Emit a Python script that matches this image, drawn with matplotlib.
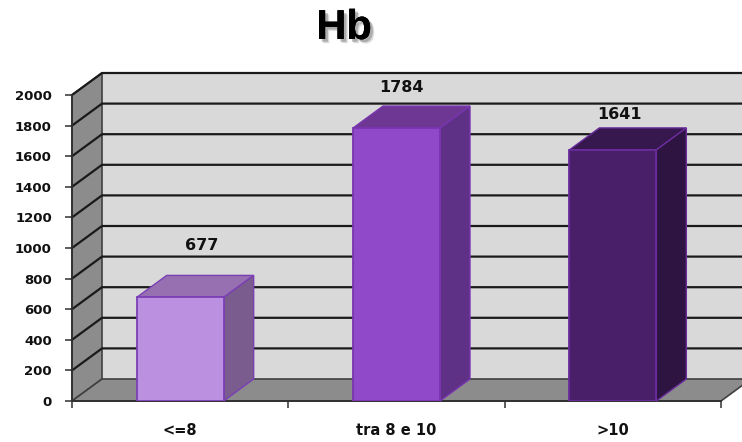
import matplotlib
matplotlib.use('Agg')
import matplotlib.pyplot as plt
import matplotlib.patheffects as pe
from matplotlib.patches import Polygon

categories = ['<=8', 'tra 8 e 10', '>10']
values = [677, 1784, 1641]
yticks = [0, 200, 400, 600, 800, 1000, 1200, 1400, 1600, 1800, 2000]

front_colors = ['#BC90E0', '#9049C8', '#481F68']
top_colors = ['#9670B0', '#6E3794', '#36184E']
side_colors = ['#7A5C8E', '#5E3086', '#2E1440']
edge_colors = ['#7B3FB5', '#7A35B0', '#6A2C9C']

# where the value labels sit relative to the bar centre / box top, in pixels
label_dx = [22, 5, 7]
label_dy = [30, 19, 13]

W, H = 742, 442
fig = plt.figure(figsize=(W / 100, H / 100), dpi=100)
ax = fig.add_axes([72 / W, 1 - 401 / H, (721 - 72) / W, (401 - 95) / H])
ax.set_xlim(-0.5, 2.5)
ax.set_ylim(0, 2000)

# depth of the fake 3d box, pixels -> data
xscale = 649 / 3
yscale = 306 / 2000
dx = 30 / xscale
dy = 22 / yscale
ymax = yticks[-1]


def poly(pts, **kw):
    p = Polygon(pts, closed=True, clip_on=False, **kw)
    ax.add_patch(p)


# walls and floor
poly([(-0.5 + dx, dy), (2.5 + dx, dy), (2.5 + dx, ymax + dy), (-0.5 + dx, ymax + dy)],
     facecolor='#D9D9D9', edgecolor='none', zorder=1)
poly([(-0.5, 0), (-0.5 + dx, dy), (-0.5 + dx, ymax + dy), (-0.5, ymax)],
     facecolor='#8C8C8C', edgecolor='#404040', linewidth=1.2, zorder=1)
poly([(-0.5, 0), (2.5, 0), (2.5 + dx, dy), (-0.5 + dx, dy)],
     facecolor='#8C8C8C', edgecolor='#404040', linewidth=1.2, zorder=1)

# gridlines go round the wall
for t in yticks[1:]:
    ax.plot([-0.5, -0.5 + dx, 2.5 + dx], [t, t + dy, t + dy], color='#1A1A1A',
            linewidth=1.6, clip_on=False, zorder=2)

# bars
width = 87 / xscale
for i, v in enumerate(values):
    l = i - width / 2
    r = i + width / 2
    ax.bar(i, v, width=width, color=front_colors[i], edgecolor=edge_colors[i],
           linewidth=1.3, zorder=5)
    poly([(l, v), (r, v), (r + dx, v + dy), (l + dx, v + dy)],
         facecolor=top_colors[i], edgecolor=edge_colors[i], linewidth=1, zorder=4)
    poly([(r, 0), (r + dx, dy), (r + dx, v + dy), (r, v)],
         facecolor=side_colors[i], edgecolor=edge_colors[i], linewidth=1, zorder=4)
    ax.text(i + label_dx[i] / xscale, v + dy + label_dy[i] / yscale, str(v),
            ha='center', va='center', fontsize=11.5, fontweight='bold',
            color='#111111', zorder=6)

for s in ['top', 'right']:
    ax.spines[s].set_visible(False)
for s in ['left', 'bottom']:
    ax.spines[s].set_color('#303030')
    ax.spines[s].set_linewidth(1.3)
    ax.spines[s].set_zorder(3)

ax.set_yticks(yticks)
ax.set_xticks([-0.5, 0.5, 1.5, 2.5])
ax.set_xticklabels([])
ax.set_xticks([0, 1, 2], minor=True)
ax.set_xticklabels(categories, minor=True, fontsize=10.5, fontweight='bold', color='#111111')
ax.tick_params(axis='x', which='minor', length=0, pad=16)
ax.tick_params(axis='x', which='major', length=5, width=1.1, color='#303030')
ax.tick_params(axis='y', length=5, width=1.1, color='#303030', pad=9.5, labelsize=9.5)
for lab in ax.get_yticklabels():
    lab.set_fontweight('bold')
    lab.set_color('#111111')

title = fig.text(344 / W, 1 - 28 / H, 'Hb', ha='center', va='center', fontsize=30,
                 fontweight='bold', family='Liberation Sans', color='black')
# stacked soft shadow
title.set_path_effects([
    pe.withSimplePatchShadow(offset=(3, -3), shadow_rgbFace='#777777', alpha=0.25),
    pe.withSimplePatchShadow(offset=(2, -2), shadow_rgbFace='#555555', alpha=0.35),
    pe.Normal(),
])

fig.savefig('out.png', dpi=100, facecolor='white')
